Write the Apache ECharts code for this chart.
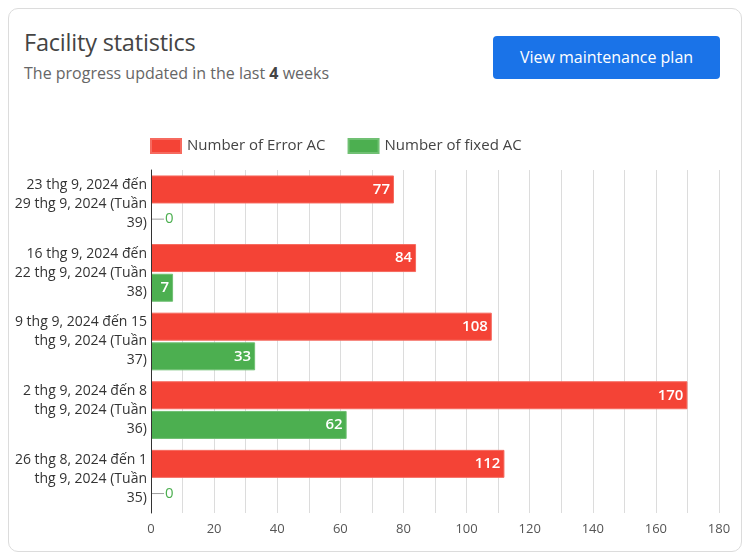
<!DOCTYPE html>
<html><head><meta charset="utf-8">
<script src="https://cdn.jsdelivr.net/npm/echarts@6/dist/echarts.min.js"></script>
<style>
html,body{margin:0;padding:0;width:751px;height:559px;background:#fff;font-family:"Open Sans",sans-serif;overflow:hidden}
#card{position:absolute;left:8px;top:8px;width:734px;height:544px;border:1px solid #dcdcdc;border-radius:10px;box-sizing:border-box}
#title{position:absolute;left:24px;top:26px;font-size:23.5px;color:#444;letter-spacing:-0.2px}
#sub{position:absolute;left:24px;top:62px;font-size:16px;color:#666;}
#sub b{color:#444}
#btn{position:absolute;left:493px;top:36px;width:227px;height:43px;background:#1a73e8;border-radius:4px;color:#fff;font-size:16px;line-height:43px;text-align:center}
#chart{position:absolute;left:0;top:0;width:751px;height:559px}
</style></head>
<body>
<div id="card"></div>
<div id="title">Facility statistics</div>
<div id="sub">The progress updated in the last <b>4</b> weeks</div>
<div id="btn">View maintenance plan</div>
<div id="chart"></div>
<script>
const categories = [
  "23 thg 9, 2024 đến\n29 thg 9, 2024 (Tuần\n39)",
  "16 thg 9, 2024 đến\n22 thg 9, 2024 (Tuần\n38)",
  "9 thg 9, 2024 đến 15\nthg 9, 2024 (Tuần\n37)",
  "2 thg 9, 2024 đến 8\nthg 9, 2024 (Tuần\n36)",
  "26 thg 8, 2024 đến 1\nthg 9, 2024 (Tuần\n35)"
];
const errorAC = [77, 84, 108, 170, 112];
const fixedAC = [0, 7, 33, 62, 0];
const seriesNames = ["Number of Error AC", "Number of fixed AC"];

const chart = echarts.init(document.getElementById('chart'));
function mkLabel(color) {
  return {
    show: true,
    position: 'insideRight',
    color: '#fff',
    fontSize: 15,
    fontWeight: 600,
    fontFamily: 'Open Sans',
    distance: 4,
    formatter: p => p.value === 0 ? '{l|}{z|0}' : String(p.value),
    rich: {
      l: {width: 12, height: 1, backgroundColor: '#9e9e9e'},
      z: {color: color, fontSize: 15, fontWeight: 400, fontFamily: 'Open Sans', padding:[0,0,0,1]}
    }
  };
}
function dataWithZero(arr) {
  return arr.map(v => v === 0 ? {value: v, itemStyle: {borderWidth: 0}, label: {position: 'right', distance: 1}} : v);
}
chart.setOption({
  animation: false,
  textStyle: {fontFamily: 'Open Sans'},
  legend: {
    top: 138, left: 150, padding: 0, icon: 'rect', itemWidth: 30, itemHeight: 14, itemGap: 22,
    textStyle: {fontSize: 15, color: '#444', fontFamily: 'Open Sans', padding: [0,0,0,1]},
    data: seriesNames
  },
  grid: {left: 151, right: 32, top: 170, bottom: 46},
  xAxis: {
    type: 'value', min: 0, max: 180, interval: 20,
    axisLine: {show: false}, axisTick: {show: false},
    axisLabel: {color: '#555', fontSize: 13, margin: 10, fontFamily: 'Open Sans'},
    splitLine: {lineStyle: {color: '#dcdcdc'}},
    minorTick: {show: false, splitNumber: 2},
    minorSplitLine: {show: true, lineStyle: {color: '#dcdcdc'}}
  },
  yAxis: {
    type: 'category', inverse: true, data: categories, z: 5,
    axisLine: {lineStyle: {color: '#333'}}, axisTick: {show: false},
    axisLabel: {color: '#333', fontSize: 14, lineHeight: 19, margin: 4, align: 'right', fontFamily: 'Open Sans'}
  },
  series: [
    {name: seriesNames[0], type: 'bar', barWidth: 28, barGap: '6%',
     itemStyle: {color: '#f44336', borderColor: '#f66a5f', borderWidth: 1},
     label: mkLabel('#f44336'), data: dataWithZero(errorAC)},
    {name: seriesNames[1], type: 'bar', barWidth: 28, barGap: '6%',
     itemStyle: {color: '#4caf50', borderColor: '#70c073', borderWidth: 1},
     label: mkLabel('#4caf50'), data: dataWithZero(fixedAC)}
  ]
});
</script>
</body></html>
